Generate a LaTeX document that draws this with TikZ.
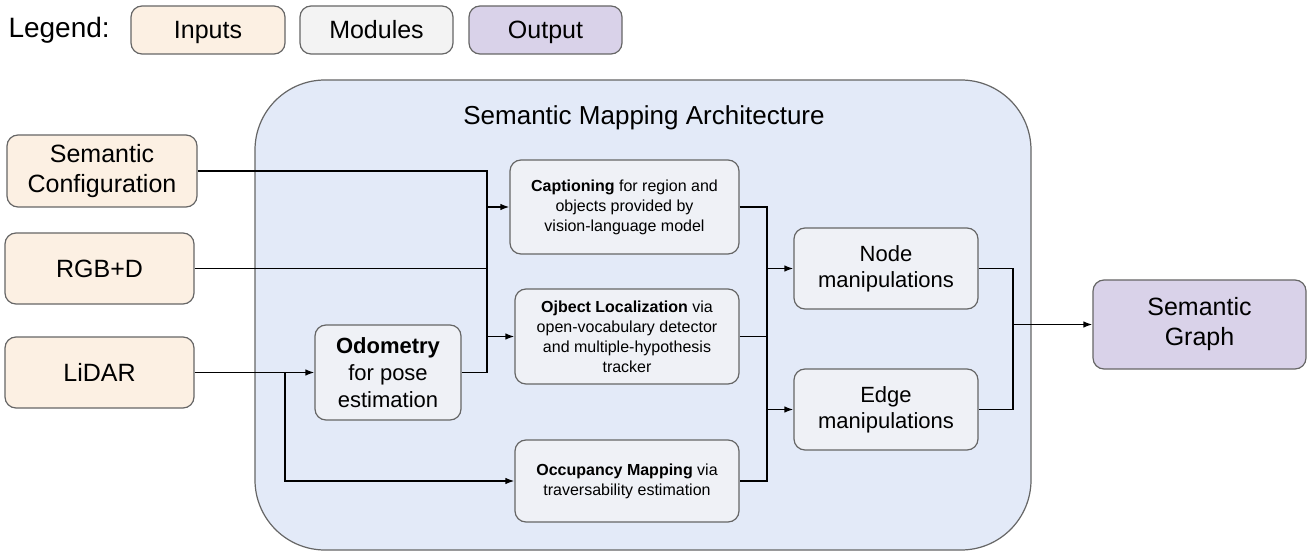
\documentclass[tikz,border=0pt]{standalone}
\usepackage{fontspec}
\setmainfont{Liberation Sans}
\usetikzlibrary{arrows.meta}
\definecolor{inpfill}{HTML}{FCF0E3}
\definecolor{modfill}{HTML}{EFF1F6}
\definecolor{legmod}{HTML}{F3F3F3}
\definecolor{outfill}{HTML}{D9D2E9}
\definecolor{contfill}{HTML}{E3EAF8}
\definecolor{bord}{HTML}{666666}
\tikzset{
  box/.style={draw=bord, line width=1.2pt, rounded corners=11pt, align=center, inner sep=0pt},
  inbox/.style={box, fill=inpfill},
  modbox/.style={box, fill=modfill},
  outbox/.style={box, fill=outfill},
  conn/.style={line width=1.4pt, black},
  arr/.style={conn, -{Latex[length=9pt,width=6.5pt]}},
  big/.style={font=\fontsize{25}{30}\selectfont},
  mid/.style={font=\fontsize{22}{26}\selectfont},
  small/.style={font=\fontsize{16}{20}\selectfont},
  legbox/.style={minimum width=153pt, minimum height=48pt, big, text height=18pt, text depth=0pt},
}
\begin{document}
\begin{tikzpicture}[x=1pt,y=-1pt]
\useasboundingbox (0,0) rectangle (1307,556);
% legend
\node[anchor=west, font=\fontsize{28}{32}\selectfont] (leg) at (5,30) {Legend:};
\node[inbox, legbox, minimum width=154pt] (li) at (208,30) {Inputs};
\node[box, fill=legmod, legbox] (lm) at (376.5,30) {Modules};
\node[outbox, legbox] (lo) at (545.5,30) {Output};
% container
\draw[draw=bord, line width=1.2pt, fill=contfill, rounded corners=70pt] (255,80) rectangle (1031,550);
\node[font=\fontsize{26}{30}\selectfont] (title) at (644,118) {Semantic Mapping Architecture};
% inputs
\node[inbox, minimum width=190pt, minimum height=72pt, big] (sc) at (102,171) {Semantic\\Configuration};
\node[inbox, minimum width=189pt, minimum height=71pt, big] (rgbd) at (99.5,268.5) {RGB+D};
\node[inbox, minimum width=189pt, minimum height=71pt, big] (lidar) at (99.5,372.5) {LiDAR};
% modules
\node[modbox, minimum width=146pt, minimum height=95pt, font=\fontsize{22}{27}\selectfont] (odo) at (388,372.5) {\textbf{Odometry}\\for pose\\estimation};
\node[modbox, minimum width=229pt, minimum height=94pt, small] (cap) at (624.5,207) {\textbf{Captioning} for region and\\objects provided by\\vision-language model};
\node[modbox, minimum width=224pt, minimum height=95pt, small] (obj) at (627,336.5) {\textbf{Ojbect Localization} via\\open-vocabulary detector\\and multiple-hypothesis\\tracker};
\node[modbox, minimum width=224pt, minimum height=82pt, small] (occ) at (627,481) {\textbf{Occupancy Mapping} via\\traversability estimation};
\node[modbox, minimum width=184pt, minimum height=81pt, mid] (nodem) at (886,268.5) {Node\\manipulations};
\node[modbox, minimum width=184pt, minimum height=81pt, mid] (edgem) at (886,409.5) {Edge\\manipulations};
\node[outbox, minimum width=213pt, minimum height=89pt, big] (sg) at (1199.5,324.5) {Semantic\\Graph};
% bus coordinates
\coordinate (b0) at (285,0);
\coordinate (b1) at (487,0);
\coordinate (b2) at (767,0);
\coordinate (b3) at (1013,0);
% connectors
\draw[arr] (sc.east) -| (b1 |- cap.west) -- (cap.west);
\draw[conn] (rgbd.east) -- (b1 |- rgbd.east);
\draw[conn] (odo.east) -| (b1 |- sc.east);
\draw[arr] (b1 |- obj.west) -- (obj.west);
\draw[arr] (lidar.east) -- (odo.west);
\draw[arr] (b0 |- lidar.east) |- (occ.west);
\draw[conn] (cap.east) -| (b2 |- occ.east) -- (occ.east);
\draw[conn] (obj.east) -- (b2 |- obj.east);
\draw[arr] (b2 |- nodem.west) -- (nodem.west);
\draw[arr] (b2 |- edgem.west) -- (edgem.west);
\draw[conn] (nodem.east) -| (b3 |- edgem.east) -- (edgem.east);
\draw[arr] (b3 |- sg.west) -- (sg.west);
\end{tikzpicture}
\end{document}
